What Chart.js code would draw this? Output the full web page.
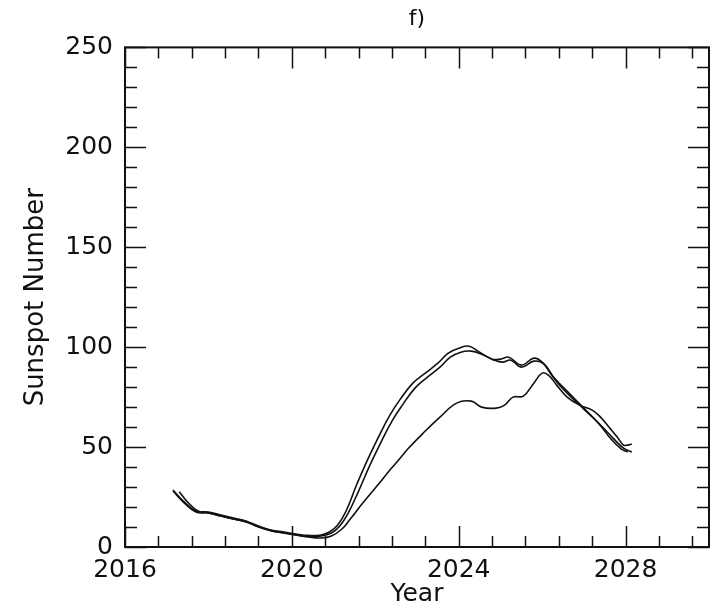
<!DOCTYPE html>
<html>
<head>
<meta charset="utf-8">
<script src="https://cdn.jsdelivr.net/npm/chart.js@4"></script>
<style>
  html, body { margin: 0; padding: 0; background: #fff; }
  #wrap { width: 726px; height: 609px; }
</style>
</head>
<body>
<div id="wrap"><canvas id="sunspotChart"></canvas></div>
<script>
// curve A (upper, outer)
const yearsA = [2017.15, 2017.4, 2017.7, 2018.0, 2018.3, 2018.6, 2018.9, 2019.2, 2019.5, 2019.8, 2020.1, 2020.4, 2020.7, 2020.9, 2021.1, 2021.3, 2021.55, 2021.8, 2022.1, 2022.35, 2022.6, 2022.9, 2023.2, 2023.5, 2023.75, 2024.0, 2024.25, 2024.5, 2024.8, 2025.0, 2025.2, 2025.5, 2025.8, 2026.0, 2026.25, 2026.55, 2026.95, 2027.35, 2027.65, 2027.9, 2028.05];
const valuesA = [28.5, 23, 18, 17.5, 16, 14.5, 13, 10.5, 8.5, 7.5, 6.5, 5.8, 6, 7.5, 11, 18, 31, 43, 56, 66, 74, 82, 87, 92, 97, 99.5, 100.5, 97.5, 94, 94, 95, 91, 94.5, 92.5, 85.5, 79, 70.5, 62, 54, 49, 47.5];

// curve B (upper, inner)
const yearsB = [2017.3, 2017.5, 2017.75, 2018.0, 2018.3, 2018.6, 2018.9, 2019.2, 2019.5, 2019.8, 2020.1, 2020.4, 2020.7, 2020.95, 2021.15, 2021.35, 2021.6, 2021.85, 2022.15, 2022.4, 2022.65, 2022.95, 2023.25, 2023.55, 2023.8, 2024.05, 2024.3, 2024.55, 2024.85, 2025.05, 2025.25, 2025.5, 2025.8, 2026.05, 2026.3, 2026.6, 2027.0, 2027.4, 2027.7, 2027.95, 2028.15];
const valuesB = [27.7, 22.5, 18, 17, 15.5, 14, 12.5, 10, 8.2, 7, 6, 5.3, 5.5, 7, 10.5, 17, 28, 40, 53, 63, 71, 79.5, 85, 90, 95, 97.5, 98, 96.5, 93.5, 92.5, 93.5, 90, 93, 91.5, 84, 77, 69, 61, 54.5, 49.5, 47.5];

// curve C (lower, later rise)
const yearsC = [2017.15, 2017.4, 2017.7, 2018.0, 2018.3, 2018.6, 2018.9, 2019.2, 2019.5, 2019.8, 2020.1, 2020.4, 2020.7, 2020.95, 2021.2, 2021.4, 2021.7, 2022.1, 2022.35, 2022.6, 2022.8, 2023.15, 2023.55, 2023.95, 2024.3, 2024.55, 2024.9, 2025.1, 2025.3, 2025.55, 2025.8, 2026.0, 2026.15, 2026.35, 2026.6, 2026.9, 2027.2, 2027.4, 2027.6, 2027.8, 2027.95, 2028.05, 2028.15];
const valuesC = [28, 22.5, 17.5, 17, 15.5, 14, 12.8, 10.2, 8.2, 7.2, 6, 5, 4.5, 5.5, 9, 14, 22, 32, 38.5, 44.5, 49.5, 57, 65, 72, 73, 70, 69.5, 71, 75, 75.5, 82, 87, 86, 81, 75, 71, 68.5, 65, 60, 55, 51, 51, 51.5];

const xTickValues = [2016, 2020, 2024, 2028];
const yTickValues = [0, 50, 100, 150, 200, 250];

function toPoints(xs, ys) {
  return xs.map((x, i) => ({ x: x, y: ys[i] }));
}

function lineSet(xs, ys) {
  return {
    data: toPoints(xs, ys),
    borderColor: "#111",
    borderWidth: 1.6,
    pointRadius: 0,
    tension: 0.4,
    fill: false
  };
}

// frame + inward ticks, IDL style
const framePlugin = {
  id: "frame",
  afterDraw(chart) {
    const { ctx, chartArea: a, scales } = chart;
    const xs = scales.x;
    const ys = scales.y;
    ctx.save();
    ctx.strokeStyle = "#111";
    ctx.lineWidth = 1.5;
    for (let v = 2016; v <= 2030.001; v += 0.8) {
      const major = xTickValues.some((t) => Math.abs(t - v) < 0.01);
      const len = major ? 21 : 11;
      const px = Math.round(xs.getPixelForValue(v)) + 0.5;
      ctx.beginPath();
      ctx.moveTo(px, a.bottom); ctx.lineTo(px, a.bottom - len);
      ctx.moveTo(px, a.top); ctx.lineTo(px, a.top + len);
      ctx.stroke();
    }
    for (let v = 0; v <= 250; v += 10) {
      const major = v % 50 === 0;
      const len = major ? 21 : 12;
      const py = Math.round(ys.getPixelForValue(v)) + 0.5;
      ctx.beginPath();
      ctx.moveTo(a.left, py); ctx.lineTo(a.left + len, py);
      ctx.moveTo(a.right, py); ctx.lineTo(a.right - len, py);
      ctx.stroke();
    }
    ctx.lineWidth = 2;
    ctx.strokeRect(a.left, a.top, a.right - a.left, a.bottom - a.top);
    ctx.restore();
  }
};

const font = "'DejaVu Sans', sans-serif";

new Chart(document.getElementById("sunspotChart"), {
  type: "line",
  data: {
    datasets: [lineSet(yearsA, valuesA), lineSet(yearsB, valuesB), lineSet(yearsC, valuesC)]
  },
  options: {
    responsive: true,
    maintainAspectRatio: false,
    animation: false,
    layout: { padding: { left: 0, right: 17, top: 0, bottom: 0 } },
    plugins: {
      legend: { display: false },
      tooltip: { enabled: false },
      title: {
        display: true,
        fullSize: false,
        text: "f)",
        color: "#111",
        font: { family: font, size: 22, weight: "normal" },
        padding: { top: 6, bottom: 15 }
      }
    },
    scales: {
      x: {
        type: "linear",
        min: 2016,
        max: 2030,
        afterBuildTicks: (scale) => { scale.ticks = xTickValues.map((v) => ({ value: v })); },
        afterFit: (scale) => { scale.height = 62; },
        grid: { display: false, drawTicks: false },
        border: { display: false },
        ticks: {
          autoSkip: false,
          maxRotation: 0,
          padding: 8,
          color: "#111",
          font: { family: font, size: 25 },
          callback: (v) => String(v)
        },
        title: {
          display: true,
          text: "Year",
          color: "#111",
          font: { family: font, size: 25 },
          padding: { top: -9, bottom: 0 }
        }
      },
      y: {
        type: "linear",
        min: 0,
        max: 250,
        afterBuildTicks: (scale) => { scale.ticks = yTickValues.map((v) => ({ value: v })); },
        afterFit: (scale) => { scale.width = 125; },
        grid: { display: false, drawTicks: false },
        border: { display: false },
        ticks: {
          padding: 12,
          color: "#111",
          font: { family: font, size: 25 }
        },
        title: {
          display: true,
          text: "Sunspot Number",
          color: "#111",
          font: { family: font, size: 26 },
          padding: { top: 21, bottom: 0 }
        }
      }
    }
  },
  plugins: [framePlugin]
});
</script>
</body>
</html>
